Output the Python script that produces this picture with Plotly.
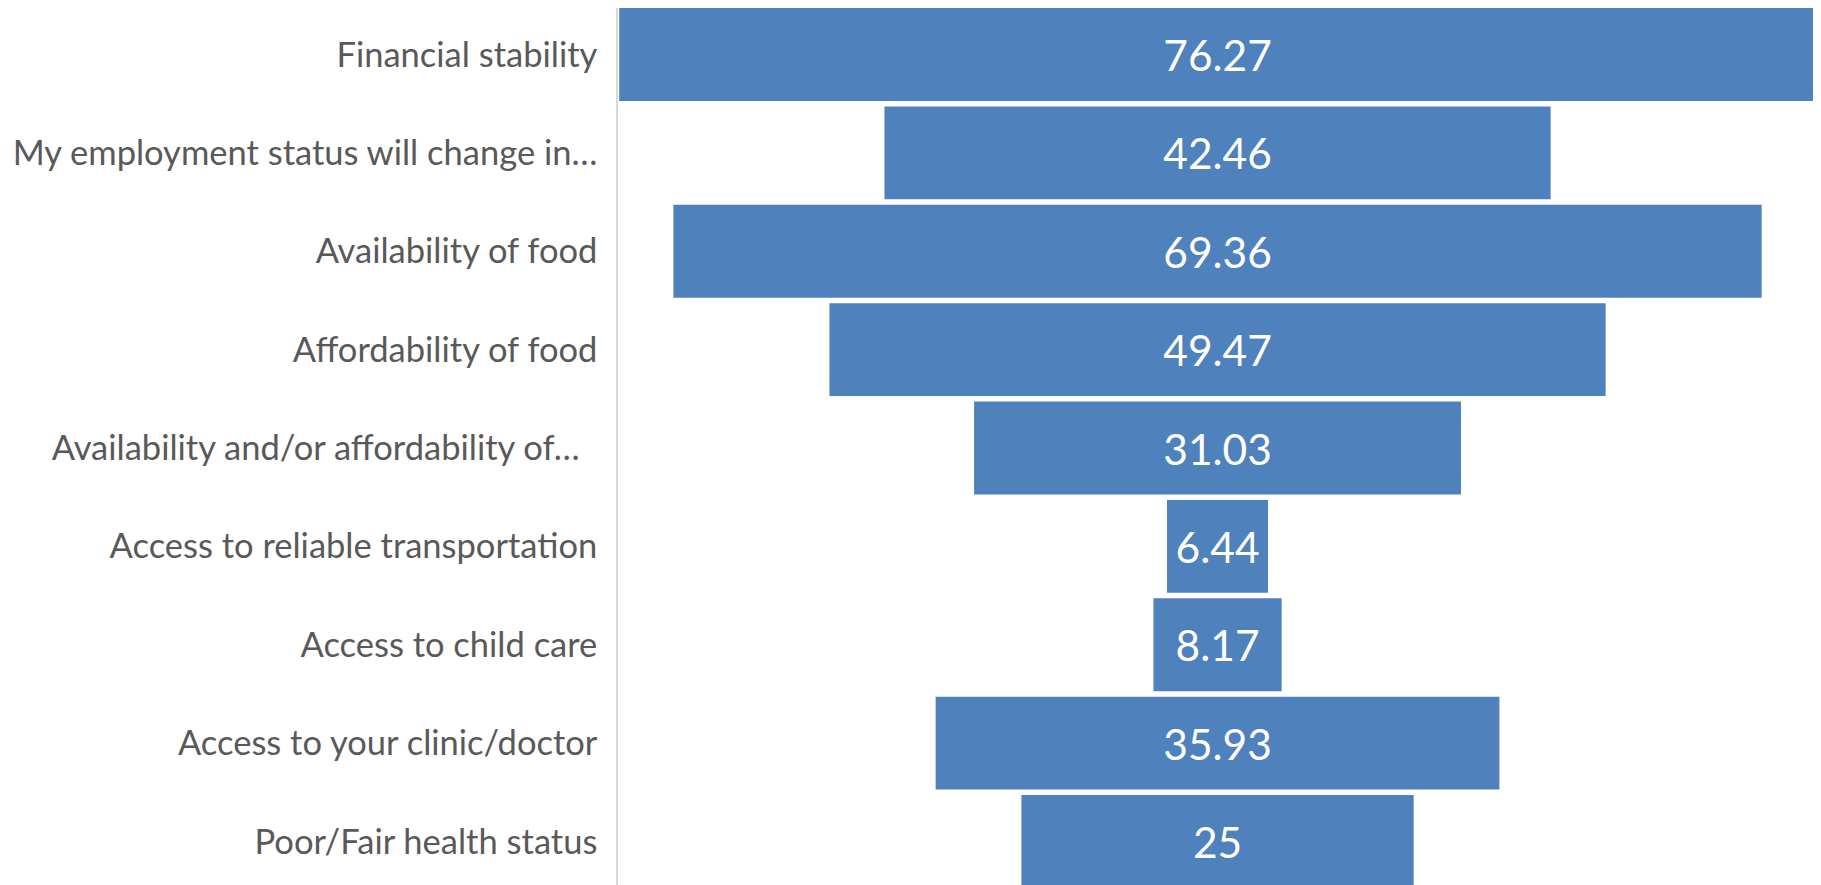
import plotly.graph_objects as go

categories = [
    "Financial stability",
    "My employment status will change in\u2026",
    "Availability of food",
    "Affordability of food",
    "Availability and/or affordability of\u2026\u00a0\u00a0",
    "Access to reliable transportation",
    "Access to child care",
    "Access to your clinic/doctor",
    "Poor/Fair health status",
]
values = [76.27, 42.46, 69.36, 49.47, 31.03, 6.44, 8.17, 35.93, 25]
value_labels = ["76.27", "42.46", "69.36", "49.47", "31.03", "6.44", "8.17", "35.93", "25"]

BAR_COLOR = "#4f81bd"
LABEL_COLOR = "#595959"
FONT = "Lato, 'Open Sans', sans-serif"

fig = go.Figure(
    go.Funnel(
        y=categories,
        x=values,
        text=value_labels,
        texttemplate="%{text}",
        textposition="inside",
        insidetextanchor="middle",
        textfont=dict(family=FONT, size=42.5, color="white"),
        insidetextfont=dict(family=FONT, size=42.5, color="white"),
        constraintext="none",
        marker=dict(color=BAR_COLOR, line=dict(width=0)),
        connector=dict(visible=False),
        hoverinfo="y+x",
    )
)

# page body has an 8px margin, so the figure is sized to fit the window
fig.update_layout(
    width=1813,
    height=877,
    margin=dict(l=610, r=0, t=0, b=0, autoexpand=False),
    paper_bgcolor="white",
    plot_bgcolor="white",
    funnelgap=0.055,
    showlegend=False,
    font=dict(family=FONT, color=LABEL_COLOR),
)

fig.update_xaxes(
    visible=False,
    automargin=False,
    range=[-38.21, 38.46],
    fixedrange=True,
)

fig.update_yaxes(
    type="category",
    automargin=False,
    range=[8.442, -0.4726],
    showline=True,
    linecolor="#d9d9d9",
    linewidth=1.5,
    showgrid=False,
    zeroline=False,
    ticks="",
    ticklabelstandoff=12,
    tickfont=dict(family=FONT, size=34.5, color=LABEL_COLOR),
    fixedrange=True,
)

fig.write_html("out.html")
